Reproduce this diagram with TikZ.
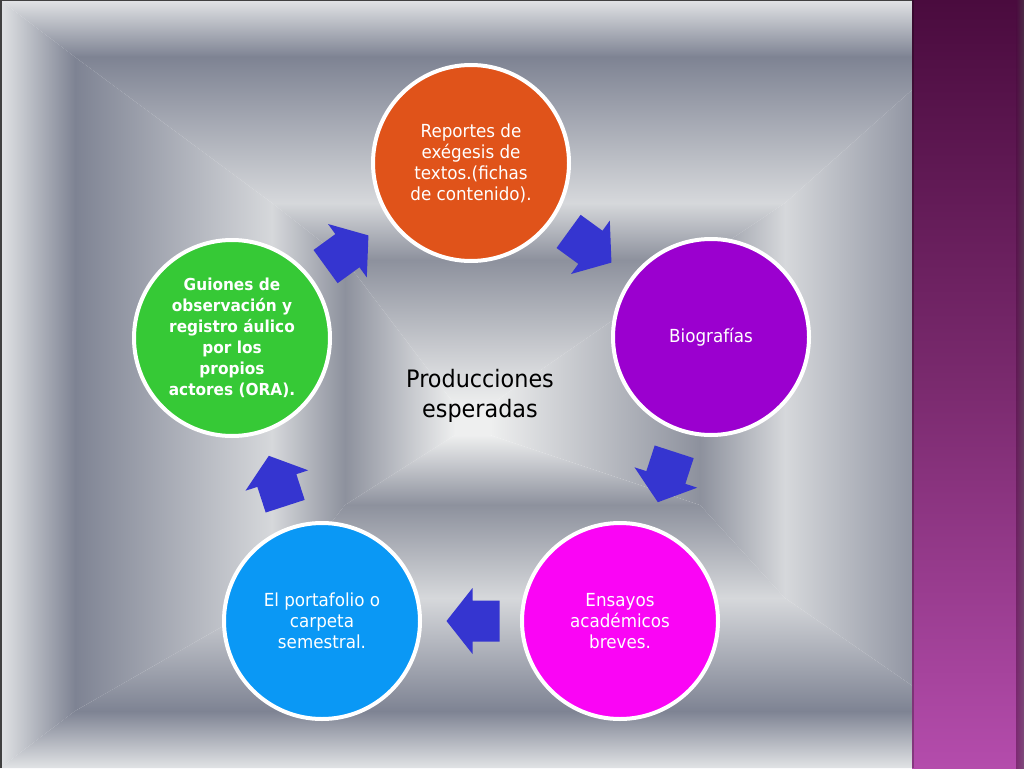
\documentclass[tikz,border=0pt]{standalone}
\usepackage{fontspec}
\setmainfont{DejaVu Sans}[FakeStretch=0.93]
\definecolor{bgL}{HTML}{E1E3E5}
\definecolor{bgD}{HTML}{7E8393}
\definecolor{bgL2}{HTML}{D6D8DB}
\definecolor{bgD2}{HTML}{8D919D}
\definecolor{bgC}{HTML}{EEEFEF}
\definecolor{plumtop}{HTML}{4A0B3E}
\definecolor{plummid}{HTML}{7A2A6E}
\definecolor{plumbot}{HTML}{B44CAC}
\definecolor{cOrange}{HTML}{E0531A}
\definecolor{cPurple}{HTML}{9B00CF}
\definecolor{cMagenta}{HTML}{FA05F5}
\definecolor{cBlue}{HTML}{0A98F5}
\definecolor{cGreen}{HTML}{36C936}
\definecolor{arrowblue}{HTML}{3535D0}
\newcommand\bevelring[4]{%
  \shade[left color=#3,right color=#4] (#1a) -- (#1a|-#1b) -- (#2a|-#2b) -- (#2a) -- cycle;
  \shade[left color=#4,right color=#3] (#1b|-#1a) -- (#1b) -- (#2b) -- (#2b|-#2a) -- cycle;
  \shade[top color=#3,bottom color=#4] (#1a|-#1b) -- (#1b) -- (#2b) -- (#2a|-#2b) -- cycle;
  \shade[bottom color=#3,top color=#4] (#1a) -- (#1b|-#1a) -- (#2b|-#2a) -- (#2a) -- cycle;}
\newcommand\cyclearrow[3]{%
  \fill[arrowstyle, shift={(#1,#2)}, rotate=#3]
    (26.5,0) -- (0.5,33) -- (0.5,20.5) -- (-26.5,20.5) -- (-26.5,-20.5) -- (0.5,-20.5) -- (0.5,-33) -- cycle;}
\tikzset{
  arrowstyle/.style={fill=arrowblue},
  circ/.style={circle, draw=white, line width=4pt, minimum size=196pt, inner sep=0pt,
    text=white, align=center, font=\fontsize{18}{21}\selectfont},
}
\begin{document}
\begin{tikzpicture}[x=1pt,y=1pt]
\useasboundingbox (0,-768) rectangle (1024,0);
% background rings
\coordinate (r0a) at (0,-768);   \coordinate (r0b) at (1024,0);
\coordinate (r1a) at (75,-711);  \coordinate (r1b) at (949,-57);
\coordinate (r2a) at (272,-598); \coordinate (r2b) at (785,-203);
\coordinate (r3a) at (345,-505); \coordinate (r3b) at (700,-260);
\coordinate (r4a) at (455,-435); \coordinate (r4b) at (490,-405);
\bevelring{r0}{r1}{bgL}{bgD}
\bevelring{r1}{r2}{bgD}{bgL2}
\bevelring{r2}{r3}{bgL2}{bgD2}
\bevelring{r3}{r4}{bgD2}{bgC}
\fill[bgC] (r4a) rectangle (r4b);
\draw[line width=1.5pt, black!75] (0.75,-768) -- (0.75,-0.75) -- (912,-0.75);
% purple band
\shade[top color=plumtop, bottom color=plumbot, middle color=plummid] (912,-768) rectangle (1024,0);
\shade[left color=plumtop, right color=black!70, opacity=0.5] (1016,-768) rectangle (1024,0);
\fill[black, opacity=0.25] (912,-768) rectangle (914,0);
% circles
\node[circ, fill=cOrange] (reportes) at (471,-163) {Reportes de\\exégesis de\\textos.(fichas\\de contenido).};
\node[circ, fill=cPurple] (biografias) at (711,-337) {Biografías};
\node[circ, fill=cMagenta] (ensayos) at (620,-621) {Ensayos\\académicos\\breves.};
\node[circ, fill=cBlue] (portafolio) at (322,-621) {El portafolio o\\carpeta\\semestral.};
\node[circ, fill=cGreen, font=\bfseries\fontsize{16.5}{21}\selectfont] (guiones) at (232,-338) {Guiones de\\observación y\\registro áulico\\por los\\propios\\actores (ORA).};
\node[align=center, font=\fontsize{24}{30}\selectfont, text=black] (centro) at (480,-396) {Producciones\\esperadas};
% arrows
\cyclearrow{590}{-247}{-36}
\cyclearrow{666}{-477}{-108}
\cyclearrow{473}{-621}{180}
\cyclearrow{277}{-481}{108}
\cyclearrow{347}{-251}{36}
\end{tikzpicture}
\end{document}
